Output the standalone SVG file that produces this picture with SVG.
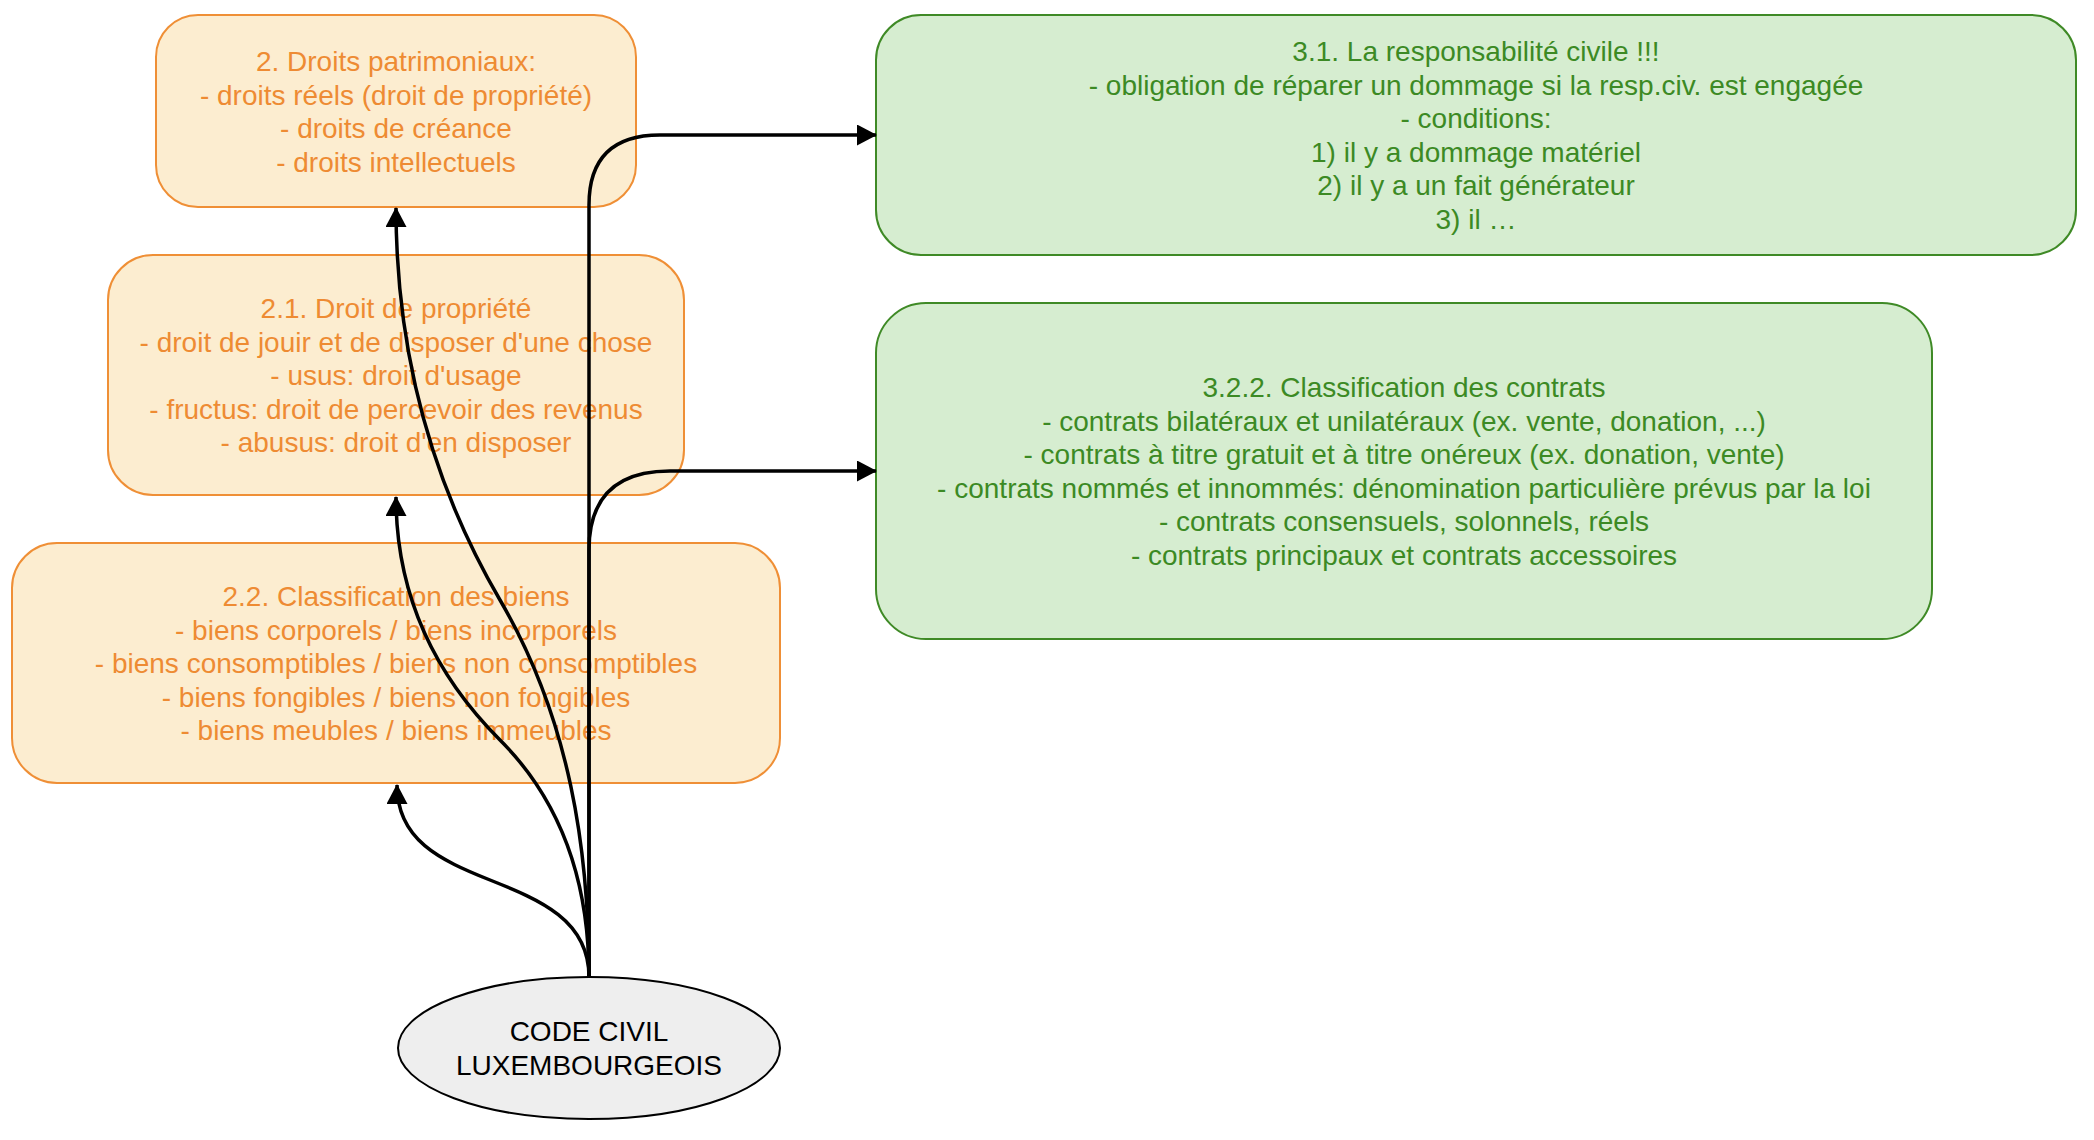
<svg xmlns="http://www.w3.org/2000/svg" width="2094" height="1140" viewBox="0 0 2094 1140">
<style>
  .orange rect { fill: #FCEDD0; stroke: #EF8F36; stroke-width: 2; }
  .orange text { fill: #EE8B33; }
  .green rect { fill: #D6EDD0; stroke: #3F8A26; stroke-width: 2; }
  .green text { fill: #3C8A24; }
  text { font-family: "Liberation Sans", Arial, Helvetica, sans-serif; font-size: 28px; text-anchor: middle; }
  .edge { fill: none; stroke: #000; stroke-width: 3.5; }
  .root ellipse { fill: #EEEEEE; stroke: #000; stroke-width: 2; }
  .root text { fill: #000; }
</style>
<defs>
  <marker id="arrow" markerUnits="userSpaceOnUse" markerWidth="21" markerHeight="21" viewBox="0 0 20 21" refX="19" refY="10.5" orient="auto">
    <path d="M0,0 L20,10.5 L0,21 z" fill="#000"/>
  </marker>
</defs>
<rect width="2094" height="1140" fill="#FFFFFF"/>

<g id="n-droits-patrimoniaux" class="orange">
  <rect x="156" y="15" width="480" height="192" rx="42" ry="42"/>
  <text x="396"><tspan x="396" y="71">2. Droits patrimoniaux:</tspan><tspan x="396" y="104.6">- droits réels (droit de propriété)</tspan><tspan x="396" y="138.2">- droits de créance</tspan><tspan x="396" y="171.8">- droits intellectuels</tspan></text>
</g>

<g id="n-droit-propriete" class="orange">
  <rect x="108" y="255" width="576" height="240" rx="45" ry="45"/>
  <text x="396"><tspan x="396" y="318">2.1. Droit de propriété</tspan><tspan x="396" y="351.6">- droit de jouir et de disposer d'une chose</tspan><tspan x="396" y="385.2">- usus: droit d'usage</tspan><tspan x="396" y="418.8">- fructus: droit de percevoir des revenus</tspan><tspan x="396" y="452.4">- abusus: droit d'en disposer</tspan></text>
</g>

<g id="n-classification-biens" class="orange">
  <rect x="12" y="543" width="768" height="240" rx="45" ry="45"/>
  <text x="396"><tspan x="396" y="606">2.2. Classification des biens</tspan><tspan x="396" y="639.6">- biens corporels / biens incorporels</tspan><tspan x="396" y="673.2">- biens consomptibles / biens non consomptibles</tspan><tspan x="396" y="706.8">- biens fongibles / biens non fongibles</tspan><tspan x="396" y="740.4">- biens meubles / biens immeubles</tspan></text>
</g>

<g id="n-responsabilite-civile" class="green">
  <rect x="876" y="15" width="1200" height="240" rx="45" ry="45"/>
  <text x="1476"><tspan x="1476" y="61">3.1. La responsabilité civile !!!</tspan><tspan x="1476" y="94.6">- obligation de réparer un dommage si la resp.civ. est engagée</tspan><tspan x="1476" y="128.2">- conditions:</tspan><tspan x="1476" y="161.8">1) il y a dommage matériel</tspan><tspan x="1476" y="195.4">2) il y a un fait générateur</tspan><tspan x="1476" y="229">3) il …</tspan></text>
</g>

<g id="n-classification-contrats" class="green">
  <rect x="876" y="303" width="1056" height="336" rx="50" ry="50"/>
  <text x="1404"><tspan x="1404" y="397">3.2.2. Classification des contrats</tspan><tspan x="1404" y="430.6">- contrats bilatéraux et unilatéraux (ex. vente, donation, ...)</tspan><tspan x="1404" y="464.2">- contrats à titre gratuit et à titre onéreux (ex. donation, vente)</tspan><tspan x="1404" y="497.8">- contrats nommés et innommés: dénomination particulière prévus par la loi</tspan><tspan x="1404" y="531.4">- contrats consensuels, solonnels, réels</tspan><tspan x="1404" y="565">- contrats principaux et contrats accessoires</tspan></text>
</g>

<g id="connectors">
  <path class="edge" marker-end="url(#arrow)" d="M589,977 C589,920 540,900 490,880 S397,840 397,785"/>
  <path class="edge" marker-end="url(#arrow)" d="M589,977 C589,880 560,800 500,740 S396,600 396,497"/>
  <path class="edge" marker-end="url(#arrow)" d="M589,977 C589,850 570,720 500,600 S396,350 396,208"/>
  <path class="edge" marker-end="url(#arrow)" d="M589,977 L589,205 Q589,135 660,135 L876,135"/>
  <path class="edge" marker-end="url(#arrow)" d="M589,977 L589,550 Q589,471 670,471 L876,471"/>
</g>

<g id="n-code-civil" class="root">
  <ellipse cx="589" cy="1048" rx="191" ry="71"/>
  <text x="589"><tspan x="589" y="1041">CODE CIVIL</tspan><tspan x="589" y="1074.6">LUXEMBOURGEOIS</tspan></text>
</g>
</svg>
